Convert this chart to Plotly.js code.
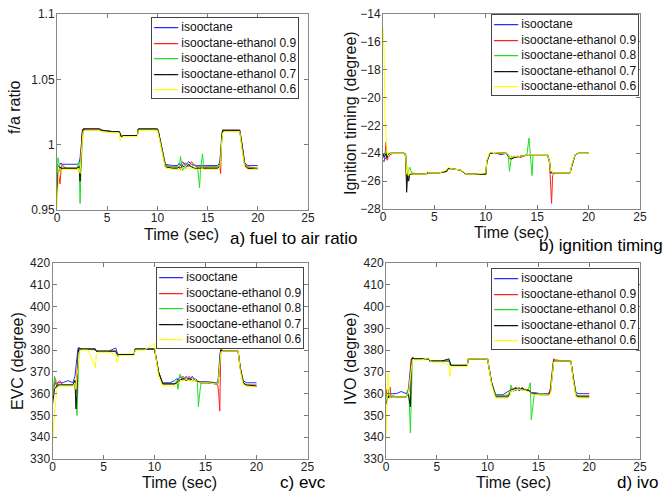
<!DOCTYPE html>
<html><head><meta charset="utf-8">
<script src="https://cdn.plot.ly/plotly-3.0.1.min.js"></script>
<style>html,body{margin:0;padding:0;background:#fff}#chart{width:667px;height:493px}</style>
</head><body><div id="chart"></div>
<script>
const TIME = [0,0.1,0.2,0.3,0.4,0.5,0.7,1.0,1.5,2.0,
  2.2,2.3,2.4,2.5,2.6,2.8,3.5,4.2,4.3,4.5,
  5.5,6.2,6.3,6.4,6.6,7.5,8.0,8.1,9.0,10.0,
  10.1,10.4,10.8,11.5,12.0,12.2,12.3,12.5,12.8,13.1,
  13.4,13.7,14.0,14.2,14.3,14.5,14.6,15.2,16.0,16.2,
  16.3,16.4,16.5,16.7,17.5,18.2,18.4,18.7,19.0,20.0];

const SERIES_NAMES = ['isooctane','isooctane-ethanol 0.9','isooctane-ethanol 0.8','isooctane-ethanol 0.7','isooctane-ethanol 0.6'];

// a) fuel to air ratio
const FA_ISO = [0.985,0.983,0.984,0.985,0.986,0.985,0.985,0.985,0.985,0.985,
 0.986,0.990,0.998,1.008,1.012,1.012,1.012,1.012,1.011,1.011,
 1.010,1.010,1.008,1.007,1.007,1.007,1.007,1.012,1.012,1.012,
 1.010,1.000,0.985,0.984,0.984,0.986,0.984,0.987,0.984,0.987,
 0.985,0.984,0.984,0.984,0.984,0.984,0.984,0.984,0.984,0.986,
 0.995,1.008,1.011,1.011,1.011,1.011,1.002,0.986,0.984,0.984];
const FA_E90 = [0.985,0.980,0.972,0.970,0.980,0.985,0.983,0.982,0.982,0.982,
 0.984,0.975,0.995,1.010,1.012,1.012,1.012,1.012,1.011,1.011,
 1.010,1.010,1.008,1.006,1.007,1.007,1.007,1.012,1.012,1.012,
 1.010,0.999,0.984,0.983,0.983,0.982,0.981,0.985,0.986,0.983,
 0.987,0.984,0.983,0.983,0.983,0.983,0.983,0.983,0.983,0.984,
 0.978,1.004,1.011,1.011,1.011,1.011,1.001,0.985,0.983,0.982];
const FA_E80 = [0.975,0.990,0.986,0.980,0.983,0.982,0.982,0.982,0.982,0.982,
 0.987,0.955,0.985,1.005,1.011,1.011,1.011,1.011,1.011,1.010,
 1.010,1.010,1.009,1.007,1.007,1.007,1.007,1.012,1.012,1.012,
 1.010,0.999,0.984,0.983,0.983,0.984,0.991,0.980,0.985,0.984,
 0.983,0.985,0.983,0.967,0.982,0.993,0.982,0.983,0.983,0.984,
 0.992,1.006,1.010,1.010,1.010,1.010,1.000,0.984,0.982,0.982];
const FA_E70 = [0.960,0.978,0.980,0.983,0.982,0.982,0.982,0.982,0.982,0.982,
 0.983,0.972,0.990,1.008,1.012,1.012,1.012,1.012,1.012,1.011,
 1.010,1.010,1.007,1.006,1.007,1.007,1.007,1.012,1.012,1.012,
 1.010,0.999,0.983,0.982,0.982,0.983,0.982,0.984,0.982,0.985,
 0.983,0.982,0.982,0.982,0.982,0.982,0.982,0.982,0.982,0.983,
 0.990,1.007,1.011,1.011,1.011,1.011,1.001,0.984,0.982,0.981];
const FA_E60 = [0.952,0.975,0.982,0.981,0.980,0.981,0.981,0.981,0.981,0.981,
 0.982,0.978,0.992,1.004,1.010,1.011,1.011,1.011,1.010,1.010,
 1.009,1.009,1.003,1.005,1.006,1.006,1.006,1.011,1.011,1.011,
 1.008,0.997,0.982,0.981,0.981,0.981,0.982,0.982,0.983,0.981,
 0.982,0.981,0.981,0.981,0.981,0.982,0.981,0.981,0.981,0.982,
 0.988,1.002,1.009,1.010,1.010,1.010,0.998,0.983,0.981,0.981];

// b) ignition timing
const IGN_ISO = [-24.5,-24.6,-24.3,-24.4,-24.2,-24.1,-24.0,-24.0,-24.0,-24.0,
 -24.1,-25.0,-25.8,-25.5,-25.5,-25.5,-25.5,-25.5,-25.4,-25.4,
 -25.4,-25.3,-25.1,-25.1,-25.1,-25.2,-25.4,-25.5,-25.5,-25.5,
 -24.6,-24.0,-23.95,-24.1,-24.0,-24.1,-24.3,-24.3,-24.2,-24.3,
 -24.2,-24.2,-24.1,-24.1,-24.1,-24.1,-24.1,-24.1,-24.1,-24.6,
 -25.3,-25.4,-25.4,-25.4,-25.4,-25.4,-24.8,-24.1,-24.0,-24.0];
const IGN_E90 = [-24.0,-24.2,-24.0,-23.2,-24.5,-24.3,-24.1,-24.0,-24.0,-24.0,
 -24.2,-26.0,-25.4,-25.6,-25.5,-25.5,-25.5,-25.5,-25.4,-25.4,
 -25.4,-25.3,-25.1,-25.1,-25.1,-25.2,-25.4,-25.5,-25.5,-25.5,
 -24.6,-24.0,-23.95,-24.0,-24.0,-24.2,-24.4,-24.4,-24.3,-24.2,
 -24.3,-24.2,-24.1,-24.1,-24.1,-24.1,-24.1,-24.1,-24.1,-24.7,
 -26.0,-27.6,-25.6,-25.4,-25.4,-25.4,-24.8,-24.1,-24.0,-24.0];
const IGN_E80 = [-24.0,-24.2,-24.0,-23.8,-24.2,-24.0,-24.0,-24.0,-24.0,-24.0,
 -24.0,-25.2,-26.0,-25.2,-25.0,-25.4,-25.5,-25.5,-25.4,-25.4,
 -25.4,-25.3,-25.1,-25.1,-25.1,-25.2,-25.4,-25.5,-25.5,-25.5,
 -24.6,-24.0,-23.95,-24.0,-24.0,-24.3,-25.3,-24.2,-24.3,-24.3,
 -24.2,-24.2,-24.1,-22.9,-24.0,-25.6,-24.1,-24.1,-24.1,-24.5,
 -25.2,-25.3,-25.4,-25.4,-25.4,-25.4,-24.8,-24.1,-24.0,-24.0];
const IGN_E70 = [-24.0,-24.3,-24.2,-24.0,-24.3,-24.1,-24.0,-24.0,-24.0,-24.0,
 -24.1,-26.8,-25.6,-26.0,-25.5,-25.5,-25.5,-25.5,-25.4,-25.4,
 -25.4,-25.3,-25.1,-25.1,-25.1,-25.2,-25.4,-25.5,-25.5,-25.5,
 -24.6,-24.0,-23.95,-24.0,-24.0,-24.2,-24.3,-24.4,-24.3,-24.3,
 -24.2,-24.2,-24.1,-24.1,-24.1,-24.1,-24.1,-24.1,-24.1,-24.6,
 -25.4,-25.4,-25.4,-25.4,-25.4,-25.4,-24.8,-24.1,-24.0,-24.0];
const IGN_E60 = [-15.0,-16.5,-21.5,-22.5,-24.0,-24.2,-24.0,-24.0,-24.0,-24.0,
 -24.1,-25.5,-25.0,-25.6,-25.4,-25.5,-25.5,-25.5,-25.3,-25.4,
 -25.4,-25.2,-25.0,-25.0,-25.1,-25.2,-25.4,-25.5,-25.5,-25.4,
 -24.5,-23.9,-23.95,-24.0,-24.0,-24.1,-24.3,-24.3,-24.2,-24.3,
 -24.2,-24.2,-24.1,-24.1,-24.1,-24.1,-24.1,-24.1,-24.1,-24.6,
 -25.3,-25.2,-25.4,-25.4,-25.4,-25.4,-24.7,-24.1,-24.0,-24.0];

// c) EVC
const EVC_ISO = [362,363,364,365,364,365,365,365,366,365,
 368,372,378,381,381,380.5,380.5,380.5,379.5,379.5,
 379.5,381,379,378,378,378,378,380.5,380.5,380.5,
 378,370,365,365,366,367,366,368,366,368,
 366,368,366,366,365.5,365.5,365.5,365.5,365,365,
 370,378,380,379.5,379.5,379.5,372,366,365,365];
const EVC_E90 = [360,362,365,367,363,365,366,364,364,364,
 366,360,370,376,380,380.5,380.5,380.5,379.5,379.5,
 379.5,379.5,378.5,378,378,378,378,380.5,380.5,380.5,
 378,370,364.5,364.5,364.5,365,366,366,368,366,
 368,366,367,366,365.5,365,365,365,364.5,364,
 360,352,381,379.5,379.5,379.5,372,365,364,364];
const EVC_E80 = [358,364,368,366,364,364,364,364,364,364,
 366,356,350,365,380,380.5,380.5,380,379.5,379.5,
 379.5,379.5,378,377,378,378,378,380.5,380.5,380.5,
 378,370,364.5,364.5,364.5,366,362,369,366,367,
 366,367,366,366,354,363,365,365,364.5,364.5,
 368,375,380,379.5,379.5,379.5,372,365,363.5,363.5];
const EVC_E70 = [355,360,362,363,363,364,364,364,364,364,
 366,353,360,378,381,380.5,380.5,380.5,379.5,379.5,
 379.5,379.5,378.5,378,378,378,378,380.5,380.5,380.5,
 378,370,364.5,364.5,364.5,365,365.5,366,367,366,
 367,366,366,365.5,365.5,365,365,365,364.5,364.5,
 368,376,380,379.5,379.5,379.5,372,365,364,363.5];
const EVC_E60 = [338,345,352,358,362,363,363.5,363.5,363.5,363.5,
 365,362,368,372,379,380,380,372,378,379,
 379,378,374,376,377.5,377.5,377.5,380,380,383,
 378,368,363.5,363.5,363.5,364.5,365,366,366,366.5,
 366,366,366,365.5,365,365,365,365,364.5,364.5,
 368,374,379,379.5,379.5,379.5,371,364,363.5,363];

// d) IVO
const IVO_ISO = [360,361,360,359,360,360,360,360,361,360,
 362,366,372,376,376.5,376,376,376,375,375,
 375,375,374,373,373,373,373,376,376,376,
 373,365,359.5,359.5,361,361.5,361,362,361.5,362.5,
 361.5,362,361.5,361,360.5,360.5,360.5,360,360,362,
 366,372,375,375,375,375,368,360.5,360,360];
const IVO_E90 = [358,362,360,358,363,358,359,358.5,358.5,358.5,
 360,362,370,376,376.5,376,376,376,375,375,
 375,375,373.5,373,373,373,373,376,376,376,
 373,365,359,359,359,360,361.5,362,363,361.5,
 363,361.5,362,361,360,360,360,360,359.5,363,
 368,374,376,375.5,375,375,368,359.5,359,359];
const IVO_E80 = [357,360,362,358,359,359,359,358.5,358.5,358.5,
 362,355,342,366,376.5,376,376,376,375,375,
 375,375,373,373,373,373,373,376,376,376,
 373,365,359,359,359.5,361,364,361,362,363,
 361.5,362,361.5,365,348,358,360,360,359.5,361,
 365,371,375,375,375,375,368,359.5,359,358.5];
const IVO_E70 = [355,358,359,358,359,358.5,358.5,358.5,358.5,358.5,
 360,356,354,374,376.5,376,376,376,375,375,
 375,376,374,373,373,373,373,376,376,376,
 373,365,358.5,358.5,358.5,360,362,362,362.5,361.5,
 362.5,361.5,361.5,361,360,360,360,359.5,359.5,361,
 365,371,375,375,375,375,368,359,358.5,358.5];
const IVO_E60 = [340,355,370,363,358,358.5,358.5,358.5,358.5,358.5,
 360,364,368,372,375.5,375.5,375.5,376.5,375.5,374.5,
 374.5,373,368,371,372.5,372.5,372.5,376,376,376,
 373,364,358,358,358,359,361.5,361.5,362,362,
 361.5,361.5,361,360.5,360,359.5,359.5,359.5,359.5,360,
 364,370,374.5,375,375,375,367,358.5,358,358];

const COLORS = ['#2a2aff','#ff2020','#22dd22','#111111','#ffff00'];
const W = 667, H = 493;
const px = v => v / W, py = v => 1 - v / H;

const panels = [
  {series:[FA_ISO,FA_E90,FA_E80,FA_E70,FA_E60], xa:'x', ya:'y'},
  {series:[IGN_ISO,IGN_E90,IGN_E80,IGN_E70,IGN_E60], xa:'x2', ya:'y2'},
  {series:[EVC_ISO,EVC_E90,EVC_E80,EVC_E70,EVC_E60], xa:'x3', ya:'y3'},
  {series:[IVO_ISO,IVO_E90,IVO_E80,IVO_E70,IVO_E60], xa:'x4', ya:'y4'}
];
const traces = [];
panels.forEach(p => {
  p.series.forEach((vals, i) => {
    traces.push({x: TIME, y: vals, type:'scatter', mode:'lines', name: SERIES_NAMES[i],
      xaxis: p.xa, yaxis: p.ya, showlegend:false, line:{color: COLORS[i], width:1}});
  });
});

const FAM = 'Liberation Sans, Arial, sans-serif';
const font = {family:FAM, color:'#222'};
function xax(dom, anchor){ return {domain:dom, anchor:anchor, range:[0,25], dtick:5, tick0:0,
  ticks:'inside', ticklen:4, tickcolor:'#777', showline:true, linecolor:'#888', mirror:'ticks',
  showgrid:false, zeroline:false, tickfont:{...font, size:12}, ticklabelstandoff:-3, fixedrange:true}; }
function yax(dom, anchor, rng, dt){ return {domain:dom, anchor:anchor, range:rng, dtick:dt, tick0:rng[0],
  ticks:'inside', ticklen:4, tickcolor:'#777', showline:true, linecolor:'#888', mirror:'ticks',
  showgrid:false, zeroline:false, tickfont:{...font, size:12}, ticklabelstandoff:-1, fixedrange:true}; }

// legend box per panel (text legend: coloured line sample + series name)
const legendText = SERIES_NAMES.map((n, i) =>
  '<span style="color:' + COLORS[i] + ';font-weight:bold">\u2014\u2014</span> ' + n).join('<br>');
function legendAnn(left, top){ return {text: legendText, xref:'paper', yref:'paper',
  x:px(left), y:py(top), xanchor:'left', yanchor:'top', align:'left', showarrow:false,
  bgcolor:'#fff', bordercolor:'#444', borderwidth:1, borderpad:2,
  font:{family:FAM, size:12, color:'#111'}}; }

function ann(text, x, y, opts){ return Object.assign({text:text, xref:'paper', yref:'paper',
  x:px(x), y:py(y), xanchor:'center', yanchor:'middle', showarrow:false, borderpad:0,
  font:{...font, size:16, color:'#111'}}, opts||{}); }

const lab = {xanchor:'left', font:{family:FAM, size:17, color:'#000'}};
const layout = {
  width:W, height:H, margin:{l:0,r:0,t:0,b:0}, paper_bgcolor:'#fff', plot_bgcolor:'#fff',
  showlegend:false,
  xaxis: xax([px(57), px(308)], 'y'),
  yaxis: yax([py(210), py(14)], 'x', [0.95,1.1], 0.05),
  xaxis2: xax([px(383), px(640)], 'y2'),
  yaxis2: yax([py(209), py(14)], 'x2', [-28,-14], 2),
  xaxis3: xax([px(52.5), px(307.5)], 'y3'),
  yaxis3: yax([py(459), py(263)], 'x3', [330,420], 10),
  xaxis4: xax([px(386), px(640)], 'y4'),
  yaxis4: yax([py(459), py(263)], 'x4', [330,420], 10),
  annotations: [
    legendAnn(151, 17), legendAnn(491, 14), legendAnn(156, 267), legendAnn(491, 268),
    ann('Time (sec)', 181.5, 234),
    ann('Time (sec)', 511.5, 233),
    ann('Time (sec)', 179.5, 482),
    ann('Time (sec)', 513, 482),
    Object.assign(ann('a) fuel to air ratio', 229, 238), lab),
    Object.assign(ann('b) ignition timing', 538, 245), lab),
    Object.assign(ann('c) evc', 279, 482), lab),
    Object.assign(ann('d) ivo', 616, 482), lab),
    ann('f/a ratio', 15, 108, {textangle:-90}),
    ann('Ignition timing (degree)', 350, 113, {textangle:-90}),
    ann('EVC (degree)', 17, 361, {textangle:-90}),
    ann('IVO (degree)', 350, 359, {textangle:-90})
  ]
};
Plotly.newPlot('chart', traces, layout, {staticPlot:true, displayModeBar:false});
</script></body></html>
